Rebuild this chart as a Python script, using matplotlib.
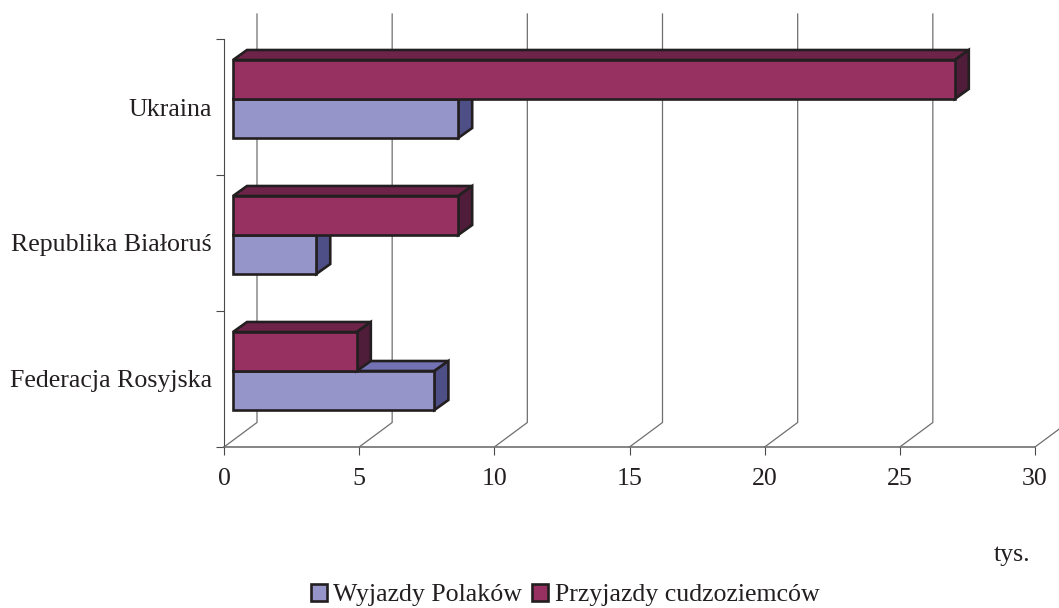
import matplotlib
matplotlib.use("Agg")
import matplotlib.pyplot as plt
from matplotlib.patches import Patch, Polygon

categories = ["Federacja Rosyjska", "Republika Białoruś", "Ukraina"]
wyjazdy = [7.45, 3.08, 8.33]
przyjazdy = [4.58, 8.33, 26.7]
x_ticks = [0, 5, 10, 15, 20, 25, 30]

W, H = 1059, 608
plt.rcParams["font.family"] = ["Liberation Serif"]
TEXT = "#231f20"
EDGE = "#231f20"
GRID = "#6f6f6f"
LW = 1.9
FS = 18.6

fig = plt.figure(figsize=(W / 100, H / 100), dpi=100)
# axes box in pixels: x 224..1035, y 39..447 (from the top)
ax = fig.add_axes([224 / W, (H - 447) / H, 811 / W, 408 / H])
ax.set_xlim(0, 30)
ax.set_ylim(0, 3)
ux = 30 / 811  # data units per pixel
uy = 3 / 408


def wall(x):
    # floor diagonal and the vertical on the back wall
    bx = x + 33 * ux
    by = 24.5 * uy
    ax.plot([x, bx, bx], [0, by, 433 * uy], color=GRID, lw=0.9, clip_on=False,
            zorder=1)


def bars(ys, values, front, top, side, z):
    left = 9 * ux
    h = 39 * uy
    dx = 14 * ux
    dy = 10 * uy
    ax.barh(ys, values, left=left, height=h, color=front, edgecolor=EDGE,
            linewidth=LW, zorder=z + 0.2)
    for y, v in zip(ys, values):
        x1 = left + v
        y0 = y - h / 2
        y1 = y + h / 2
        ax.add_patch(Polygon([(left, y1), (left + dx, y1 + dy), (x1 + dx, y1 + dy), (x1, y1)],
                             facecolor=top, edgecolor=EDGE, lw=LW, joinstyle="miter",
                             clip_on=False, zorder=z))
        ax.add_patch(Polygon([(x1, y0), (x1 + dx, y0 + dy), (x1 + dx, y1 + dy), (x1, y1)],
                             facecolor=side, edgecolor=EDGE, lw=LW, joinstyle="miter",
                             clip_on=False, zorder=z))


for t in x_ticks:
    wall(t)

pos = [i + 0.5 for i in range(len(categories))]
shift = 8 * uy
bars([p + shift - 19.5 * uy for p in pos], wyjazdy, "#9595c9", "#7272b4", "#4f4f87", 3)
bars([p + shift + 19.5 * uy for p in pos], przyjazdy, "#963162", "#6e2449", "#4f1c3a", 4)

for s in ["top", "right"]:
    ax.spines[s].set_visible(False)
ax.spines["bottom"].set_color(GRID)
ax.spines["bottom"].set_linewidth(1.2)
ax.spines["left"].set_color("#4a4a4a")
ax.spines["left"].set_linewidth(0.8)

ax.set_xticks(x_ticks)
ax.set_yticks([0, 1, 2, 3])
ax.set_yticklabels([])
ax.set_yticks(pos, categories, minor=True)
ax.tick_params(axis="x", length=5.8, width=0.8, color="#4a4a4a", labelsize=FS,
               labelcolor=TEXT, pad=9.5)
ax.tick_params(axis="y", which="major", length=5.8, width=0.8, color="#4a4a4a")
ax.tick_params(axis="y", which="minor", length=0, labelsize=FS, labelcolor=TEXT, pad=8.6)

fig.text(1012 / W, 1 - 555 / H, "tys.", fontsize=FS, color=TEXT, ha="center", va="center")

handles = [Patch(facecolor="#9595c9", edgecolor=EDGE, lw=LW, label="Wyjazdy Polaków"),
           Patch(facecolor="#963162", edgecolor=EDGE, lw=LW, label="Przyjazdy cudzoziemców")]
fig.legend(handles=handles, loc="center left", bbox_to_anchor=(311 / W, 1 - 595 / H),
           borderaxespad=0, borderpad=0, frameon=False, fontsize=FS, labelcolor=TEXT,
           handlelength=0.62, handleheight=0.62, handletextpad=0.25, columnspacing=0.39,
           ncol=2)

fig.savefig("out.png", dpi=100)
